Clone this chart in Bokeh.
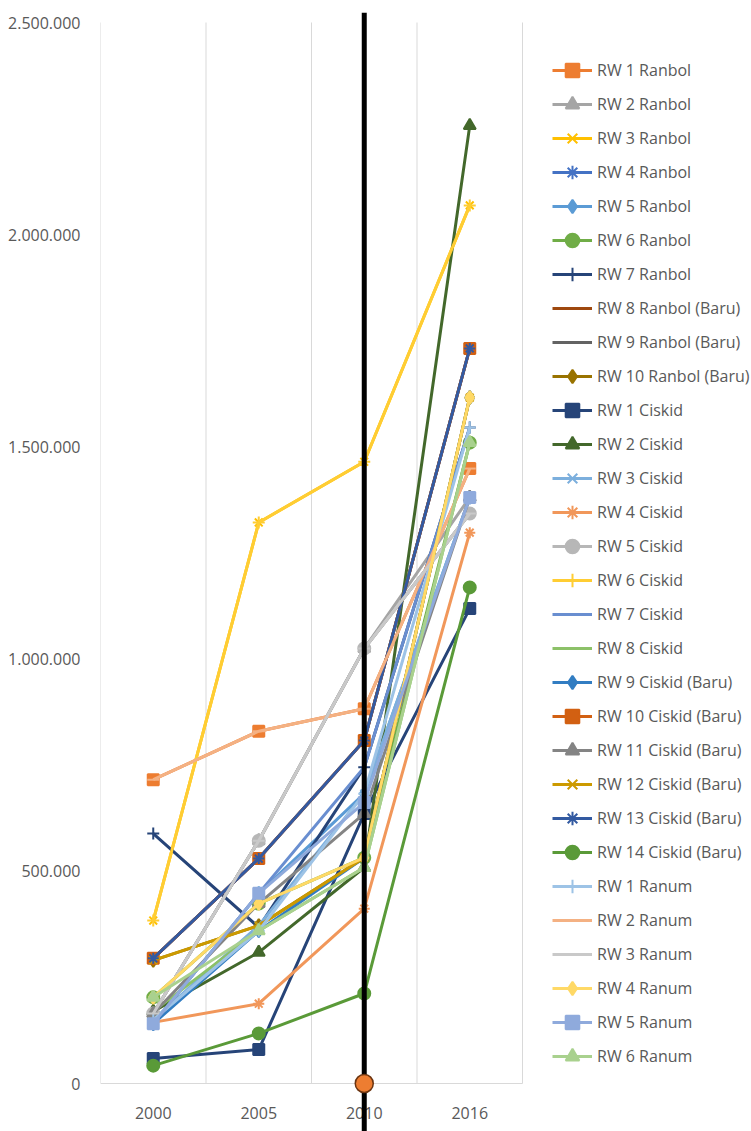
from bokeh.plotting import figure
from bokeh.models import FixedTicker, Legend, LegendItem, Range1d, Span
from bokeh.embed import file_html
from bokeh.resources import INLINE

years = ["2000", "2005", "2010", "2016"]
x_pos = [0, 1, 2, 3]
category_bounds = [-0.5, 0.5, 1.5, 2.5, 3.5]

names = [
    "RW 1 Ranbol", "RW 2 Ranbol", "RW 3 Ranbol", "RW 4 Ranbol", "RW 5 Ranbol",
    "RW 6 Ranbol", "RW 7 Ranbol", "RW 8 Ranbol (Baru)", "RW 9 Ranbol (Baru)",
    "RW 10 Ranbol (Baru)", "RW 1 Ciskid", "RW 2 Ciskid", "RW 3 Ciskid",
    "RW 4 Ciskid", "RW 5 Ciskid", "RW 6 Ciskid", "RW 7 Ciskid", "RW 8 Ciskid",
    "RW 9 Ciskid (Baru)", "RW 10 Ciskid (Baru)", "RW 11 Ciskid (Baru)",
    "RW 12 Ciskid (Baru)", "RW 13 Ciskid (Baru)", "RW 14 Ciskid (Baru)",
    "RW 1 Ranum", "RW 2 Ranum", "RW 3 Ranum", "RW 4 Ranum", "RW 5 Ranum",
    "RW 6 Ranum",
]

# values in thousands, for 2000, 2005, 2010, 2016
rw1_ranbol = [716, 830, 883, 1449]
rw2_ranbol = [165, 572, 1025, 1381]
rw3_ranbol = [384, 1322, 1465, 2069]
rw4_ranbol = [295, 530, 808, 1732]
rw5_ranbol = [141, 448, 683, 1381]
rw6_ranbol = [203, 424, 532, 1510]
rw7_ranbol = [589, 368, 745, 1546]
rw8_ranbol = [295, 530, 808, 1732]
rw9_ranbol = [165, 572, 1025, 1343]
rw10_ranbol = [290, 372, 532, 1616]
rw1_ciskid = [59, 80, 636, 1119]
rw2_ciskid = [170, 309, 509, 2257]
rw3_ciskid = [150, 372, 683, 1381]
rw4_ciskid = [144, 188, 412, 1298]
rw5_ciskid = [165, 572, 1025, 1343]
rw6_ciskid = [384, 1322, 1465, 2069]
rw7_ciskid = [141, 448, 745, 1546]
rw8_ciskid = [170, 360, 509, 1510]
rw9_ciskid = [141, 360, 532, 1616]
rw10_ciskid = [295, 530, 808, 1732]
rw11_ciskid = [165, 424, 636, 1381]
rw12_ciskid = [290, 372, 532, 1616]
rw13_ciskid = [295, 530, 808, 1732]
rw14_ciskid = [42, 118, 212, 1169]
rw1_ranum = [150, 360, 683, 1546]
rw2_ranum = [716, 830, 883, 1449]
rw3_ranum = [165, 572, 1025, 1343]
rw4_ranum = [203, 424, 532, 1616]
rw5_ranum = [141, 448, 662, 1381]
rw6_ranum = [203, 360, 509, 1510]

series = [
    rw1_ranbol, rw2_ranbol, rw3_ranbol, rw4_ranbol, rw5_ranbol, rw6_ranbol,
    rw7_ranbol, rw8_ranbol, rw9_ranbol, rw10_ranbol, rw1_ciskid, rw2_ciskid,
    rw3_ciskid, rw4_ciskid, rw5_ciskid, rw6_ciskid, rw7_ciskid, rw8_ciskid,
    rw9_ciskid, rw10_ciskid, rw11_ciskid, rw12_ciskid, rw13_ciskid,
    rw14_ciskid, rw1_ranum, rw2_ranum, rw3_ranum, rw4_ranum, rw5_ranum,
    rw6_ranum,
]

colors = [
    "#ED7D31", "#A5A5A5", "#FFC000", "#4472C4", "#5B9BD5", "#70AD47",
    "#264478", "#9E480E", "#636363", "#997300", "#264478", "#43682B",
    "#7CAFDD", "#F1975A", "#B7B7B7", "#FFCD33", "#698ED0", "#8CC168",
    "#327DC2", "#D26012", "#848484", "#CC9A00", "#335AA1", "#5A9A38",
    "#9DC3E6", "#F4B183", "#C9C9C9", "#FFD966", "#8FAADC", "#A9D18E",
]

markers = [
    "square", "triangle", "x", "asterisk", "diamond", "circle", "cross",
    "dash", "dash", "diamond", "square", "triangle", "x", "asterisk",
    "circle", "cross", None, None, "diamond", "square", "triangle", "x",
    "asterisk", "circle", "cross", "dash", "dash", "diamond", "square",
    "triangle",
]
marker_sizes = {"square": 11, "triangle": 12, "x": 11, "asterisk": 11,
                "diamond": 13, "circle": 12, "cross": 12, "dash": 12}

y_ticks = [0, 500000, 1000000, 1500000, 2000000, 2500000]
y_tick_labels = ["0", "500.000", "1.000.000", "1.500.000", "2.000.000", "2.500.000"]

marker_year = 2  # 2010
marker_value = 0

px_val = 2500000 / 1061.0   # value per screen pixel
cat_px = 105.5              # pixels per category
p = figure(width=751, height=1131, output_backend="svg", toolbar_location=None,
           x_range=Range1d(-0.5, -0.5 + 651 / cat_px),
           y_range=Range1d(-48 * px_val, 2500000 + 10 * px_val),
           min_border_left=100, min_border_right=0, min_border_top=12,
           min_border_bottom=0)
p.outline_line_color = None
p.background_fill_color = "white"
p.border_fill_color = "white"

FONT = "Open Sans"
# axes
p.xaxis.fixed_location = 0
p.xaxis.bounds = (-0.5, 3.5)
p.xaxis.ticker = FixedTicker(ticks=x_pos)
p.xaxis.major_label_overrides = {i: y for i, y in zip(x_pos, years)}
p.xaxis.axis_line_color = "#D9D9D9"
p.xaxis.major_tick_line_color = None
p.xaxis.minor_tick_line_color = None
p.xaxis.major_label_standoff = 17
p.xaxis.major_label_text_color = "#595959"
p.xaxis.major_label_text_font = FONT
p.xaxis.major_label_text_font_size = "16px"

p.yaxis.ticker = FixedTicker(ticks=y_ticks)
p.yaxis.major_label_overrides = {t: l for t, l in zip(y_ticks, y_tick_labels)}
p.yaxis.axis_line_color = None
p.yaxis.major_tick_line_color = None
p.yaxis.minor_tick_line_color = None
p.yaxis.major_label_standoff = 14
p.yaxis.major_label_text_color = "#595959"
p.yaxis.major_label_text_font = FONT
p.yaxis.major_label_text_font_size = "16px"

p.ygrid.grid_line_color = None
p.xgrid.grid_line_color = None

# vertical category gridlines, limited to the value range
p.segment(x0=category_bounds, y0=[0] * len(category_bounds),
          x1=category_bounds, y1=[2500000] * len(category_bounds),
          line_color="#D9D9D9", line_width=1)

items = []
for name, vals, col, mk in zip(names, series, colors, markers):
    ys = [v * 1000 for v in vals]
    rs = [p.line(x_pos, ys, line_color=col, line_width=3)]
    if mk is not None:
        rs.append(p.scatter(x_pos, ys, marker=mk, size=marker_sizes[mk],
                            fill_color=col, line_color=col, line_width=2))
    items.append(LegendItem(label=name, renderers=rs))

legend = Legend(items=items, location=(452, 58), margin=0, padding=0,
                spacing=0, glyph_width=40, glyph_height=34, label_height=34,
                label_standoff=5, label_text_font=FONT,
                label_text_font_size="16px", label_text_color="#595959",
                border_line_color=None, background_fill_alpha=0)
p.add_layout(legend)

# black vertical marker line at 2010
p.add_layout(Span(location=marker_year, dimension="height",
                  line_color="black", line_width=5))
# orange dot at 2010, 0 (drawn above the black line)
p.scatter([marker_year], [marker_value], marker="circle", size=18,
          fill_color="#ED7D31", line_color="#6B3410", line_width=1.5,
          level="overlay")

open("out.html", "w").write(file_html(p, INLINE))
